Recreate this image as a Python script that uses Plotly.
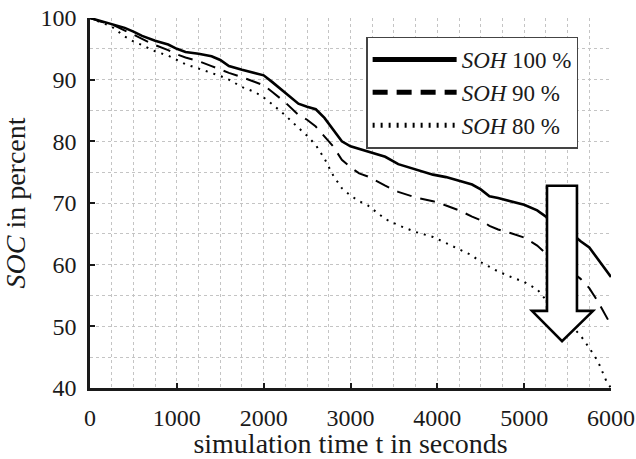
import plotly.graph_objects as go

# ---- data ----
t = [0, 100, 250, 400, 500, 600, 750, 900, 1000, 1100, 1250, 1400, 1500, 1600,
     1750, 1900, 2000, 2100, 2250, 2400, 2500, 2600, 2700, 2800, 2900, 3000,
     3100, 3200, 3400, 3550, 3750, 3950, 4100, 4250, 4400, 4500, 4600, 4700,
     4850, 5000, 5150, 5250, 5350, 5450, 5550, 5650, 5750, 5850, 5950, 6000]

soh100 = [100, 99.6, 99.1, 98.4, 97.8, 97.1, 96.3, 95.7, 95.0, 94.5, 94.2, 93.8,
          93.2, 92.2, 91.6, 91.1, 90.7, 89.6, 87.8, 86.1, 85.6, 85.2, 83.8, 81.9,
          80.0, 79.2, 78.8, 78.3, 77.5, 76.3, 75.5, 74.6, 74.2, 73.6, 73.0, 72.2,
          71.1, 70.8, 70.3, 69.7, 68.8, 67.8, 67.0, 66.2, 65.0, 63.8, 62.8, 60.8,
          58.8, 58.0]

soh90 = [100, 99.5, 99.0, 97.9, 97.3, 96.6, 95.6, 94.8, 94.1, 93.6, 93.0, 92.2,
         91.6, 91.1, 90.4, 89.6, 89.1, 88.0, 86.3, 84.3, 83.5, 82.4, 80.8, 79.2,
         77.0, 75.8, 74.8, 74.3, 72.8, 71.8, 70.9, 70.3, 69.6, 68.8, 67.8, 67.2,
         66.3, 65.7, 65.1, 64.4, 63.1, 61.8, 60.7, 59.8, 58.8, 57.7, 56.2, 54.0,
         51.5, 50.2]

soh80 = [100, 99.4, 98.6, 97.0, 96.2, 95.6, 94.6, 93.9, 93.2, 92.5, 91.8, 91.1,
         90.6, 90.0, 88.8, 88.0, 87.1, 86.0, 84.2, 82.2, 80.9, 79.4, 77.2, 74.5,
         72.4, 71.2, 70.3, 69.6, 67.4, 66.4, 65.3, 64.5, 63.5, 62.6, 61.5, 60.4,
         59.6, 58.9, 58.0, 57.2, 56.0, 54.3, 52.8, 51.3, 50.0, 48.5, 46.5, 44.3,
         41.0, 40.0]

series_names = ["<i>SOH</i> 100 %", "<i>SOH</i> 90 %", "<i>SOH</i> 80 %"]
x_ticks = [0, 1000, 2000, 3000, 4000, 5000, 6000]
y_ticks = [40, 50, 60, 70, 80, 90, 100]

# ---- annotation arrow (data coordinates) ----
arrow_x = [5263, 5608, 5608, 5793, 5436, 5090, 5263]
arrow_y = [72.8, 72.8, 52.5, 52.5, 47.6, 52.5, 52.5]

FONT = "Liberation Serif"
INK = "#1a1a1a"
GRID = "#c4c4c4"

fig = go.Figure()
styles = [
    dict(color="black", width=2.6, dash="solid"),
    dict(color="black", width=2.0, dash="15px,9px"),
    dict(color="black", width=2.0, dash="2px,6px"),
]
for name, y, st in zip(series_names, [soh100, soh90, soh80], styles):
    fig.add_trace(go.Scatter(x=t, y=y, mode="lines", name=name, line=st))

path = "M " + " L ".join(f"{x},{y}" for x, y in zip(arrow_x, arrow_y)) + " Z"
fig.add_shape(type="path", path=path, xref="x", yref="y",
              fillcolor="white", line=dict(color="black", width=2.6), layer="above")

grid = dict(showgrid=True, gridcolor=GRID, griddash="dot", gridwidth=1)

fig.update_layout(
    width=636, height=459,
    margin=dict(l=90, r=25, t=18, b=71),
    paper_bgcolor="white", plot_bgcolor="white",
    font=dict(family=FONT, size=23, color=INK),
    showlegend=True,
    legend=dict(x=0.530, y=0.950, xanchor="left", yanchor="top",
                bgcolor="white", bordercolor="#444", borderwidth=1.5,
                font=dict(family=FONT, size=23, color=INK),
                itemwidth=84, tracegroupgap=0, itemsizing="constant"),
    xaxis=dict(range=[0, 6000], tickvals=x_ticks, ticks="inside", ticklen=5,
               tickwidth=2, tickcolor=INK, showline=True, linecolor=INK,
               linewidth=2.5, zeroline=False, mirror=False, automargin=False,
               ticklabelstandoff=6, ticklabeloverflow="allow",
               tickfont=dict(family=FONT, size=24, color=INK),
               minor=dict(dtick=250, showgrid=True, gridcolor=GRID,
                          griddash="dot", gridwidth=1, ticks=""),
               title=dict(text="simulation time t in seconds",
                          font=dict(family=FONT, size=28, color=INK), standoff=4),
               **grid),
    yaxis=dict(range=[40, 100], tickvals=y_ticks, ticks="inside", ticklen=5,
               tickwidth=2, tickcolor=INK, showline=True, linecolor=INK,
               linewidth=2.5, zeroline=False, mirror=False, automargin=False,
               ticklabelstandoff=6, ticklabeloverflow="allow",
               tickfont=dict(family=FONT, size=24, color=INK),
               minor=dict(dtick=5, showgrid=True, gridcolor=GRID,
                          griddash="dot", gridwidth=1, ticks=""),
               title=dict(text="<i>SOC</i> in percent",
                          font=dict(family=FONT, size=28, color=INK), standoff=10),
               **grid),
)

# remove the page's default body margin so the figure sits at the window origin
fig.write_html("out.html",
               config={"displayModeBar": False},
               post_script="document.body.style.margin='0';document.body.style.overflow='hidden';")
